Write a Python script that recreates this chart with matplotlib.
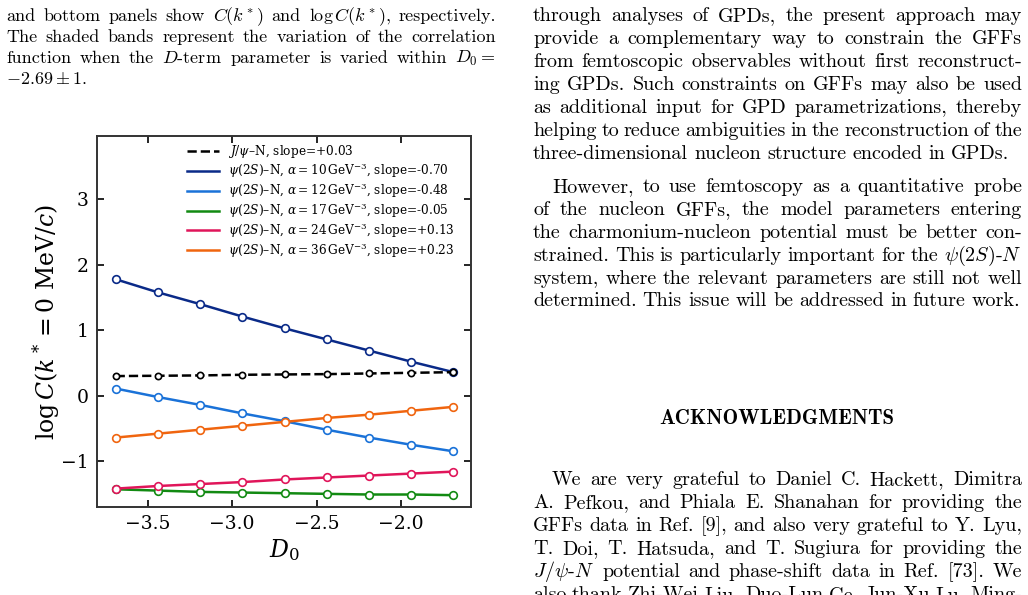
import re
import matplotlib
matplotlib.use('Agg')
import matplotlib.pyplot as plt
from matplotlib.lines import Line2D

plt.rcParams.update({
    'font.family': 'DejaVu Serif',
    'mathtext.fontset': 'dejavuserif',
    'axes.linewidth': 1.4,
    'xtick.direction': 'in',
    'ytick.direction': 'in',
    'xtick.top': True,
    'ytick.right': True,
})

# ---- data ----
d0 = [-3.69, -3.44, -3.19, -2.94, -2.69, -2.44, -2.19, -1.94, -1.69]
jpsi = [0.30, 0.305, 0.31, 0.32, 0.325, 0.33, 0.34, 0.35, 0.36]
psi_a10 = [1.78, 1.58, 1.40, 1.21, 1.03, 0.86, 0.69, 0.52, 0.36]
psi_a12 = [0.11, -0.02, -0.14, -0.27, -0.39, -0.52, -0.64, -0.75, -0.85]
psi_a17 = [-1.43, -1.45, -1.47, -1.48, -1.49, -1.50, -1.51, -1.51, -1.52]
psi_a24 = [-1.42, -1.38, -1.35, -1.32, -1.28, -1.25, -1.22, -1.19, -1.16]
psi_a36 = [-0.64, -0.58, -0.52, -0.46, -0.40, -0.34, -0.29, -0.23, -0.17]

alphas = [10, 12, 17, 24, 36]
slopes = ['-0.70', '-0.48', '-0.05', '+0.13', '+0.23']
psi_series = [psi_a10, psi_a12, psi_a17, psi_a24, psi_a36]
colors = ['#0a2a88', '#1a72d8', '#128a12', '#e0155a', '#f0650f']

fig = plt.figure(figsize=(10.28, 5.95), dpi=100)

# ---- the chart ----
ax = fig.add_axes([0.0944, 0.148, 0.364, 0.6235])
ax.plot(d0, jpsi, color='black', ls='--', lw=1.8, marker='o', ms=4.5,
        mfc='white', mew=1.2, zorder=5)
handles = [Line2D([], [], color='black', ls='--', lw=1.8,
                  label=r'$J/\psi$–N, slope=+0.03')]
for vals, a, s, c in zip(psi_series, alphas, slopes, colors):
    ax.plot(d0, vals, color=c, lw=1.8, marker='o', ms=5.5, mfc='white', mew=1.2)
    handles.append(Line2D([], [], color=c, lw=1.8,
                          label=r'$\psi(2S)$–N, $\alpha = %d\,\mathrm{GeV}^{-3}$, slope=%s' % (a, s)))

ax.set_xlim(-3.80, -1.585)
ax.set_ylim(-1.70, 3.97)
ax.set_xticks([-3.5, -3.0, -2.5, -2.0])
ax.set_yticks([-1, 0, 1, 2, 3])
ax.tick_params(labelsize=13.5, length=5, width=1.2, pad=6)
for sp in ax.spines.values():
    sp.set_color('#333333')
ax.set_xlabel(r'$D_0$', fontsize=17, labelpad=3)
ax.set_ylabel(r'$\log C(k^* = 0\ \mathrm{MeV}/c)$', fontsize=17, labelpad=-1)
ax.legend(handles=handles, loc='upper left', bbox_to_anchor=(0.22, 1.0),
          frameon=False, fontsize=8.7, handlelength=2.7, handletextpad=0.7,
          labelspacing=0.08, borderaxespad=0.2)

# ---- surrounding page text ----
page = fig.add_axes([0, 0, 1, 1], zorder=-1)
page.set_xlim(0, 1028)
page.set_ylim(595, 0)
page.axis('off')
renderer = fig.canvas.get_renderer()


def line(y, x0, x1, txt, size, justify=True, family='cmr10'):
    words = re.findall(r'(?:\$[^$]*\$|[^\s$])+', txt)
    arts = [page.text(0, y, w, fontsize=size, family=family, math_fontfamily='cm',
                      va='baseline', ha='left') for w in words]
    widths = [a.get_window_extent(renderer).width for a in arts]
    if justify and len(words) > 1:
        gap = (x1 - x0 - sum(widths)) / (len(words) - 1)
    else:
        gap = size * 0.42
    x = x0
    for a, w in zip(arts, widths):
        a.set_x(x)
        x += w + gap


cap = 13
left = [
    (21, r'and bottom panels show $C(k^*)$ and $\log C(k^*)$, respectively.', True),
    (42, 'The shaded bands represent the variation of the correlation', True),
    (63, r'function when the $D$-term parameter is varied within $D_0 =$', True),
    (84, r'$-2.69 \pm 1$.', False),
]
for y, t, j in left:
    line(y, 6, 496, t, cap, j)

body = 14.5
right = [
    (21, 533, 'through analyses of GPDs, the present approach may', True),
    (44, 533, 'provide a complementary way to constrain the GFFs', True),
    (67, 533, 'from femtoscopic observables without first reconstruct-', True),
    (90, 533, 'ing GPDs. Such constraints on GFFs may also be used', True),
    (113, 533, 'as additional input for GPD parametrizations, thereby', True),
    (136, 533, 'helping to reduce ambiguities in the reconstruction of the', True),
    (159, 533, 'three-dimensional nucleon structure encoded in GPDs.', False),
    (192, 552, 'However, to use femtoscopy as a quantitative probe', True),
    (215, 533, 'of the nucleon GFFs, the model parameters entering', True),
    (238, 533, 'the charmonium-nucleon potential must be better con-', True),
    (261, 533, r'strained. This is particularly important for the $\psi(2S)$-$N$', True),
    (284, 533, 'system, where the relevant parameters are still not well', True),
    (306, 533, 'determined. This issue will be addressed in future work.', False),
    (485, 552, 'We are very grateful to Daniel C. Hackett, Dimitra', True),
    (508, 533, 'A. Pefkou, and Phiala E. Shanahan for providing the', True),
    (531, 533, 'GFFs data in Ref. [9], and also very grateful to Y. Lyu,', True),
    (554, 533, 'T. Doi, T. Hatsuda, and T. Sugiura for providing the', True),
    (577, 533, r'$J/\psi$-$N$ potential and phase-shift data in Ref. [73]. We', True),
    (600, 533, 'also thank Zhi-Wei Liu, Duo-Lun Ge, Jun-Xu Lu, Ming-', True),
]
for y, x0, t, j in right:
    line(y, x0, 1022, t, body, j)

page.text(777, 424, 'ACKNOWLEDGMENTS', fontsize=15, family='cmb10',
          ha='center', va='baseline')

fig.savefig('out.png', dpi=100, facecolor='white')
